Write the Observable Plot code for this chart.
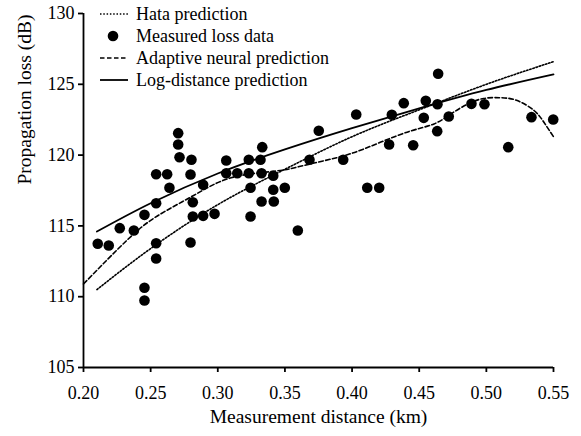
<!DOCTYPE html>
<html><head><meta charset="utf-8">
<script src="https://cdn.jsdelivr.net/npm/d3@7"></script>
<script src="https://cdn.jsdelivr.net/npm/@observablehq/plot@0.6"></script>
<style>
body{margin:0;background:#fff;}
#wrap{position:relative;width:581px;height:436px;font-family:"Liberation Serif","Times New Roman",serif;color:#000;}
#wrap svg, #wrap svg text, #wrap svg g{font-family:"Liberation Serif","Times New Roman",serif !important;}
#legend{position:absolute;left:98px;top:3px;font-size:18px;}
.row{display:flex;align-items:center;height:22px;}
.row svg{width:38px;height:22px;flex:none;}
</style></head>
<body><div id="wrap"><div id="legend"></div></div>
<script>
// Measured loss data
const measDist = [0.2106,0.2188,0.2270,0.2375,0.2454,0.2454,0.2454,0.2541,0.2541,0.2541,0.2541,0.2623,0.2640,0.2705,0.2705,0.2715,0.2804,0.2797,0.2814,0.2814,0.2797,0.2891,0.2891,0.2976,0.3063,0.3063,0.3145,0.3231,0.3231,0.3318,0.3331,0.3326,0.3413,0.3244,0.3326,0.3244,0.3413,0.3417,0.3499,0.3596,0.3683,0.3752,0.3934,0.4031,0.4113,0.4202,0.4276,0.4296,0.4385,0.4455,0.4549,0.4641,0.4636,0.4534,0.4720,0.4634,0.4889,0.4986,0.5163,0.5336,0.5498];
const measLoss = [113.74,113.62,114.84,114.68,115.78,110.63,109.73,118.65,116.60,113.78,112.70,118.65,117.69,121.55,120.75,119.85,119.67,118.63,116.67,115.66,113.83,117.90,115.71,115.85,119.62,118.72,118.72,119.67,118.72,119.67,120.56,118.72,118.54,117.69,116.72,115.66,117.55,116.72,117.69,114.68,119.67,121.72,119.67,122.87,117.69,117.69,120.75,122.85,123.67,120.70,123.83,125.74,123.59,122.63,122.73,121.69,123.62,123.59,120.56,122.68,122.51];
// Hata prediction
const hataDist = [0.21,0.25,0.30,0.35,0.40,0.45,0.50,0.55];
const hataLoss = [110.5,113.4,116.5,119.0,121.3,123.2,125.0,126.6];
// Adaptive neural prediction
const annDist = [0.200,0.2325,0.255,0.282,0.310,0.342,0.359,0.379,0.399,0.421,0.4435,0.461,0.4735,0.486,0.498,0.511,0.523,0.5355,0.543,0.550];
const annLoss = [110.9,114.0,115.7,117.15,118.4,118.86,119.15,119.6,120.1,120.9,121.7,122.2,122.9,123.6,124.0,124.05,123.85,123.15,122.3,121.3];
// Log-distance prediction
const logDist = [0.21,0.25,0.30,0.35,0.40,0.45,0.50,0.55];
const logLoss = [114.6,116.6,118.7,120.4,121.9,123.3,124.6,125.7];
// Ticks & labels
const xTicks = [0.20,0.25,0.30,0.35,0.40,0.45,0.50,0.55];
const yTicks = [105,110,115,120,125,130];
const xLabel = "Measurement distance (km)";
const yLabel = "Propagation loss (dB)";
const legendItems = [
  {label:"Hata prediction", kind:"dotted"},
  {label:"Measured loss data", kind:"dot"},
  {label:"Adaptive neural prediction", kind:"dashed"},
  {label:"Log-distance prediction", kind:"solid"}
];

const zip = (xs, ys) => xs.map((x, i) => ({x, y: ys[i]}));
const meas = zip(measDist, measLoss);
const hata = zip(hataDist, hataLoss);
const ann = zip(annDist, annLoss);
const logd = zip(logDist, logLoss);

const font = '"Liberation Serif","Times New Roman",serif';
const chart = Plot.plot({
  width: 581, height: 436,
  marginLeft: 83, marginRight: 28, marginTop: 13, marginBottom: 69,
  style: {fontFamily: font, fontSize: "18px", color: "#000", background: "#fff", overflow: "visible"},
  x: {domain: [0.20, 0.55]},
  y: {domain: [105, 130]},
  marks: [
    Plot.axisX({ticks: xTicks, tickFormat: d3.format(".2f"), tickSize: 5, tickPadding: 14, strokeWidth: 1.8, label: null, fontSize: 18, fontFamily: font}),
    Plot.axisY({ticks: yTicks, tickSize: 5, tickPadding: 4, strokeWidth: 1.8, label: null, fontSize: 18, fontFamily: font}),
    Plot.ruleX([0.20], {stroke: "#000", strokeWidth: 1.8}),
    Plot.ruleY([105], {stroke: "#000", strokeWidth: 1.8}),
    Plot.line(hata, {x: "x", y: "y", stroke: "#000", strokeWidth: 1.6, strokeDasharray: "1.5,1.8", curve: "natural"}),
    Plot.line(ann, {x: "x", y: "y", stroke: "#000", strokeWidth: 1.6, strokeDasharray: "4.5,2.5", curve: "natural"}),
    Plot.line(logd, {x: "x", y: "y", stroke: "#000", strokeWidth: 1.8, curve: "natural"}),
    Plot.dot(meas, {x: "x", y: "y", r: 5.3, fill: "#000", stroke: "none"}),
    Plot.text([xLabel], {frameAnchor: "bottom", dy: 55, fontSize: 19.5, fill: "#000", fontFamily: font}),
    Plot.text([yLabel], {frameAnchor: "left", dx: -59, dy: -6, rotate: -90, fontSize: 19.5, fill: "#000", fontFamily: font})
  ]
});
const wrap = document.getElementById("wrap");
wrap.insertBefore(chart, wrap.firstChild);

const legend = document.getElementById("legend");
for (const it of legendItems) {
  const row = document.createElement("div");
  row.className = "row";
  let sample = "";
  if (it.kind === "dot") sample = '<circle cx="15" cy="11" r="5.3" fill="#000"/>';
  else {
    const dash = it.kind === "dotted" ? 'stroke-dasharray="1.5,1.8"' : it.kind === "dashed" ? 'stroke-dasharray="4.5,2.5"' : "";
    sample = `<line x1="2" x2="30" y1="11" y2="11" stroke="#000" stroke-width="${it.kind==='solid'?1.8:1.6}" ${dash}/>`;
  }
  row.innerHTML = `<svg viewBox="0 0 38 22">${sample}</svg><span>${it.label}</span>`;
  legend.appendChild(row);
}
</script></body></html>
